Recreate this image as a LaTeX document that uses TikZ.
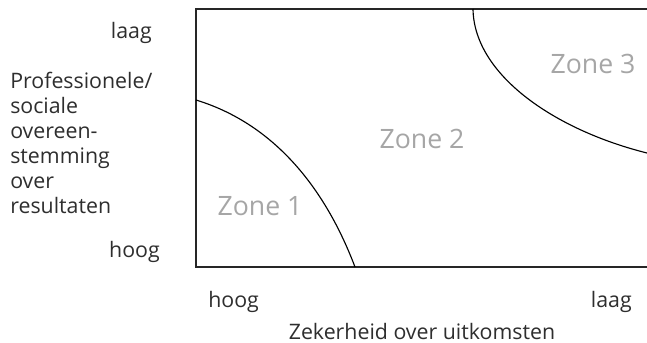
\documentclass[tikz,border=0pt]{standalone}
\usepackage{fontspec}
\setmainfont{Open Sans}
\begin{document}
\begin{tikzpicture}[
    x=0.75pt, y=-0.75pt,
    axis label/.style={font=\fontsize{16}{18.7}\selectfont, text=black!82, inner sep=0pt},
    zone label/.style={font=\fontsize{20}{24}\selectfont, text=black!35, inner sep=0pt},
    border/.style={line width=0.8pt, black!85},
    zone line/.style={line width=0.85pt}
]
    \useasboundingbox (0,0) rectangle (647,343);
    % kader (rechts open)
    \coordinate (tr) at (647,9);
    \coordinate (tl) at (196,9);
    \coordinate (bl) at (196,267);
    \coordinate (br) at (647,267);
    \draw[border] (tr) -- (tl) -- (bl) -- (br);

    % zonegrenzen
    \coordinate (z1-top) at (196,100);
    \coordinate (z1-bot) at (355,267);
    \draw[zone line] (z1-top) .. controls (268,122) and (322,180) .. (z1-bot);
    \coordinate (z3-top) at (473,9);
    \coordinate (z3-bot) at (647,153);
    \draw[zone line] (z3-top) .. controls (474,75) and (555,130) .. (z3-bot);

    \node[zone label] (zone-1) at (260,206) {Zone 1};
    \node[zone label] (zone-2) at (422,139) {Zone 2};
    \node[zone label] (zone-3) at (593,64) {Zone 3};

    % verticale as
    \node[axis label, anchor=base east] (y-laag) at (152,38) {laag};
    \node[axis label, anchor=north west, align=left] (y-titel) at (10,72)
        {Professionele/\\sociale\\overeen-\\stemming\\over\\resultaten};
    \node[axis label, anchor=base east] (y-hoog) at (160,257) {hoog};

    % horizontale as
    \node[axis label, anchor=base west] (x-hoog) at (208,307) {hoog};
    \node[axis label, anchor=base east] (x-laag) at (632,307) {laag};
    \node[axis label, anchor=base] (x-titel) at (422,339) {Zekerheid over uitkomsten};
\end{tikzpicture}
\end{document}
